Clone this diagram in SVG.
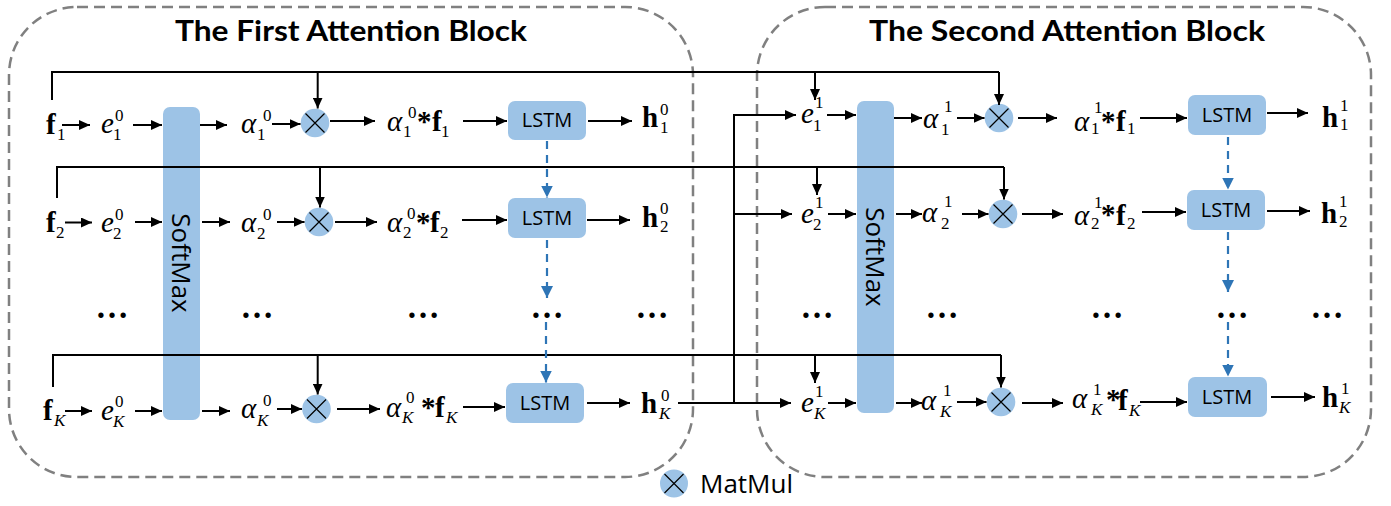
<svg xmlns="http://www.w3.org/2000/svg" width="1391" height="506" viewBox="0 0 1391 506">
<style>
.blk{fill:none;stroke:#808080;stroke-width:2.5;stroke-dasharray:11 6}
.ttl{font-family:Lato,"Open Sans",sans-serif;font-weight:bold;font-size:29px;text-anchor:middle;fill:#000}
.bar{fill:#9dc3e6}
.bt{font-family:"Open Sans",sans-serif;font-size:26px;text-anchor:middle;fill:#000}
.box{fill:#9dc3e6}
.lt{font-family:"Open Sans",sans-serif;font-size:20px;text-anchor:middle;fill:#000}
.mc{fill:#9dc3e6}
.mx{stroke:#000;stroke-width:1.2;fill:none}
.c{fill:none;stroke:#000;stroke-width:2}
.a{marker-end:url(#ah)}
.bd{fill:none;stroke:#2e75b6;stroke-width:2.2;stroke-dasharray:8 6;marker-end:url(#bh)}
.m{font-family:"Liberation Serif","Times New Roman",serif;font-size:29px;fill:#000}
.s{font-size:17px}
.i{font-style:italic}
.b{font-weight:bold}
.dots{font-family:"Liberation Serif","Times New Roman",serif;font-size:33px;font-weight:bold;text-anchor:middle;fill:#000}
.lg{font-family:"Open Sans",sans-serif;font-size:26px;fill:#000}
</style>
<defs>
<marker id="ah" markerUnits="userSpaceOnUse" markerWidth="11" markerHeight="10" refX="11" refY="5" orient="auto"><path d="M0,0 L11,5 L0,10 z" fill="#000"/></marker>
<marker id="bh" markerUnits="userSpaceOnUse" markerWidth="12" markerHeight="12" refX="12" refY="6" orient="auto"><path d="M0,0 L12,6 L0,12 z" fill="#2e75b6"/></marker>
<g id="mmx"><path class="mx" d="M-9.5,-9.5 L9.5,9.5 M-9.5,9.5 L9.5,-9.5"/></g>
</defs>
<rect width="1391" height="506" fill="#fff"/>

<g id="block1"><rect class="blk" x="9" y="7" width="684" height="470" rx="68" ry="68"/><text class="ttl" x="351" y="41" textLength="352" lengthAdjust="spacingAndGlyphs">The First Attention Block</text></g>
<g id="block2"><rect class="blk" x="757" y="7" width="614" height="470" rx="68" ry="68"/><text class="ttl" x="1067" y="41" textLength="396" lengthAdjust="spacingAndGlyphs">The Second Attention Block</text></g>

<g id="softmax1"><rect class="bar" x="163" y="107" width="37" height="313" rx="7"/><text class="bt" transform="translate(181,263) rotate(90)" y="9">SoftMax</text></g>
<g id="softmax2"><rect class="bar" x="857" y="101" width="37" height="312" rx="7"/><text class="bt" transform="translate(875,257) rotate(90)" y="9">SoftMax</text></g>

<g id="lstm1-1"><rect class="box" x="508" y="101" width="78" height="39" rx="7"/><text class="lt" x="547" y="127">LSTM</text></g>
<g id="lstm1-2"><rect class="box" x="508" y="198" width="78" height="40" rx="7"/><text class="lt" x="547" y="225">LSTM</text></g>
<g id="lstm1-K"><rect class="box" x="506" y="383" width="78" height="40" rx="7"/><text class="lt" x="545" y="410">LSTM</text></g>
<g id="lstm2-1"><rect class="box" x="1188" y="95" width="78" height="40" rx="7"/><text class="lt" x="1227" y="122">LSTM</text></g>
<g id="lstm2-2"><rect class="box" x="1187" y="190" width="78" height="40" rx="7"/><text class="lt" x="1226" y="217">LSTM</text></g>
<g id="lstm2-K"><rect class="box" x="1188" y="377" width="79" height="40" rx="7"/><text class="lt" x="1227" y="404">LSTM</text></g>

<g id="mm1-1"><circle class="mc" cx="315" cy="123" r="14.3"/><use href="#mmx" x="315" y="123"/></g>
<g id="mm1-2"><circle class="mc" cx="319" cy="222" r="14.3"/><use href="#mmx" x="319" y="222"/></g>
<g id="mm1-K"><circle class="mc" cx="316.5" cy="409" r="14.3"/><use href="#mmx" x="316.5" y="409"/></g>
<g id="mm2-1"><circle class="mc" cx="999" cy="118" r="14.3"/><use href="#mmx" x="999" y="118"/></g>
<g id="mm2-2"><circle class="mc" cx="1003" cy="214" r="14.3"/><use href="#mmx" x="1003" y="214"/></g>
<g id="mm2-K"><circle class="mc" cx="1001" cy="402" r="14.3"/><use href="#mmx" x="1001" y="402"/></g>

<g id="connectors">
<path class="c" d="M52,100 V72 H999"/>
<path class="c a" d="M999,72 V105"/>
<path class="c a" d="M317.7,72 V108.5"/>
<path class="c a" d="M815,72 V100"/>
<path class="c" d="M57,198 V167 H1004"/>
<path class="c a" d="M1004,167 V199.5"/>
<path class="c a" d="M320,167 V207.5"/>
<path class="c a" d="M817,167 V195"/>
<path class="c" d="M53,387 V355 H1001"/>
<path class="c a" d="M1001,355 V387.5"/>
<path class="c a" d="M317.7,355 V394.5"/>
<path class="c a" d="M815,355 V383"/>
<path class="c a" d="M678,403 H791"/>
<path class="c a" d="M734,403 V115 H796"/>
<path class="c a" d="M734,214 H792"/>

<path class="c a" d="M62,125 H90"/>
<path class="c a" d="M133,125 H162"/>
<path class="c a" d="M200,125 H227"/>
<path class="c a" d="M272,124 H300.5"/>
<path class="c a" d="M330,121 H375"/>
<path class="c a" d="M463,121 H507"/>
<path class="c a" d="M588,121 H632"/>

<path class="c a" d="M65,222.5 H92"/>
<path class="c a" d="M135,222 H162"/>
<path class="c a" d="M202,222 H230"/>
<path class="c a" d="M277,222 H304.5"/>
<path class="c a" d="M335,222 H377"/>
<path class="c a" d="M462,220 H507"/>
<path class="c a" d="M587,220 H630"/>

<path class="c a" d="M65,411 H92"/>
<path class="c a" d="M135,411 H162"/>
<path class="c a" d="M202,411 H230"/>
<path class="c a" d="M277,409 H302"/>
<path class="c a" d="M337,409 H380"/>
<path class="c a" d="M463,407 H505"/>
<path class="c a" d="M587,403 H630"/>

<path class="c a" d="M827,115 H856"/>
<path class="c a" d="M894,118 H922"/>
<path class="c a" d="M957,118 H984.5"/>
<path class="c a" d="M1018,118 H1057"/>
<path class="c a" d="M1140,118 H1187"/>
<path class="c a" d="M1267,113 H1308"/>

<path class="c a" d="M828,214 H856"/>
<path class="c a" d="M896,214 H922"/>
<path class="c a" d="M962,214 H988.5"/>
<path class="c a" d="M1022,214 H1063"/>
<path class="c a" d="M1142,212 H1186"/>
<path class="c a" d="M1267,211 H1310"/>

<path class="c a" d="M828,403 H856"/>
<path class="c a" d="M896,403 H922"/>
<path class="c a" d="M957,402 H986.5"/>
<path class="c a" d="M1022,403 H1063"/>
<path class="c a" d="M1140,402 H1187"/>
<path class="c a" d="M1271,397 H1315"/>

<path class="bd" d="M547,141 V197.5"/>
<path class="bd" d="M547,240 V298"/>
<path class="bd" d="M546,322 V382.5"/>
<path class="bd" d="M1228,137 V189.5"/>
<path class="bd" d="M1228,232 V292"/>
<path class="bd" d="M1228,322 V376.5"/>
</g>

<!-- left block labels -->
<g id="f1"><text class="m b" x="46" y="134">f</text><text class="m s" x="57" y="140">1</text></g>
<g id="e1-0"><text class="m i" x="101" y="133">e</text><text class="m s" x="115" y="121">0</text><text class="m s" x="113" y="140">1</text></g>
<g id="a1-0"><text class="m i" x="241" y="133">α</text><text class="m s" x="263" y="121">0</text><text class="m s" x="257" y="140">1</text></g>
<g id="af1-0"><text class="m i" x="387" y="131">α</text><text class="m s" x="408" y="118">0</text><text class="m s" x="403" y="137">1</text><text class="m b" x="417" y="131">*</text><text class="m b" x="432" y="131">f</text><text class="m s" x="441" y="137">1</text></g>
<g id="h1-0"><text class="m b" x="642" y="127">h</text><text class="m s" x="660" y="115">0</text><text class="m s" x="660" y="133">1</text></g>

<g id="f2"><text class="m b" x="46" y="232">f</text><text class="m s" x="56" y="238">2</text></g>
<g id="e2-0"><text class="m i" x="101" y="232">e</text><text class="m s" x="115" y="220">0</text><text class="m s" x="113" y="239">2</text></g>
<g id="a2-0"><text class="m i" x="241" y="232">α</text><text class="m s" x="263" y="220">0</text><text class="m s" x="257" y="239">2</text></g>
<g id="af2-0"><text class="m i" x="387" y="232">α</text><text class="m s" x="407" y="219">0</text><text class="m s" x="403" y="238">2</text><text class="m b" x="416" y="232">*</text><text class="m b" x="430" y="232">f</text><text class="m s" x="440" y="238">2</text></g>
<g id="h2-0"><text class="m b" x="642" y="227">h</text><text class="m s" x="660" y="214">0</text><text class="m s" x="660" y="232">2</text></g>

<g id="fK"><text class="m b" x="43" y="420">f</text><text class="m s i" x="54" y="426">K</text></g>
<g id="eK-0"><text class="m i" x="101" y="420">e</text><text class="m s" x="115" y="407">0</text><text class="m s i" x="113" y="427">K</text></g>
<g id="aK-0"><text class="m i" x="241" y="418">α</text><text class="m s" x="263" y="406">0</text><text class="m s i" x="257" y="426">K</text></g>
<g id="afK-0"><text class="m i" x="386" y="417">α</text><text class="m s" x="406" y="403">0</text><text class="m s i" x="402" y="423">K</text><text class="m b" x="421" y="417">*</text><text class="m b" x="435" y="417">f</text><text class="m s i" x="446" y="423">K</text></g>
<g id="hK-0"><text class="m b" x="641" y="413">h</text><text class="m s" x="661" y="401">0</text><text class="m s i" x="659" y="419">K</text></g>

<!-- right block labels -->
<g id="e1-1"><text class="m i" x="801" y="123">e</text><text class="m s" x="815" y="108">1</text><text class="m s" x="813" y="131">1</text></g>
<g id="a1-1"><text class="m i" x="923" y="128">α</text><text class="m s" x="944" y="112">1</text><text class="m s" x="941" y="135">1</text></g>
<g id="af1-1"><text class="m i" x="1074" y="131">α</text><text class="m s" x="1094" y="113">1</text><text class="m s" x="1091" y="134">1</text><text class="m b" x="1101" y="131">*</text><text class="m b" x="1116" y="131">f</text><text class="m s" x="1127" y="134">1</text></g>
<g id="h1-1"><text class="m b" x="1322" y="127">h</text><text class="m s" x="1340" y="111">1</text><text class="m s" x="1340" y="130">1</text></g>

<g id="e2-1"><text class="m i" x="801" y="223">e</text><text class="m s" x="815" y="208">1</text><text class="m s" x="813" y="230">2</text></g>
<g id="a2-1"><text class="m i" x="922" y="222">α</text><text class="m s" x="944" y="207">1</text><text class="m s" x="941" y="229">2</text></g>
<g id="af2-1"><text class="m i" x="1074" y="225">α</text><text class="m s" x="1094" y="208">1</text><text class="m s" x="1091" y="229">2</text><text class="m b" x="1101" y="224">*</text><text class="m b" x="1116" y="225">f</text><text class="m s" x="1127" y="229">2</text></g>
<g id="h2-1"><text class="m b" x="1321" y="223">h</text><text class="m s" x="1339" y="207">1</text><text class="m s" x="1339" y="227">2</text></g>

<g id="eK-1"><text class="m i" x="801" y="412">e</text><text class="m s" x="815" y="397">1</text><text class="m s i" x="814" y="419">K</text></g>
<g id="aK-1"><text class="m i" x="921" y="410">α</text><text class="m s" x="943" y="396">1</text><text class="m s i" x="940" y="417">K</text></g>
<g id="afK-1"><text class="m i" x="1072" y="408">α</text><text class="m s" x="1093" y="395">1</text><text class="m s i" x="1091" y="415">K</text><text class="m b" x="1106" y="409">*</text><text class="m b" x="1118" y="410">f</text><text class="m s i" x="1129" y="416">K</text></g>
<g id="hK-1"><text class="m b" x="1322" y="407">h</text><text class="m s" x="1341" y="394">1</text><text class="m s i" x="1339" y="413">K</text></g>

<g id="ellipses">
<text class="dots" x="112" y="318">…</text>
<text class="dots" x="257" y="318">…</text>
<text class="dots" x="423" y="318">…</text>
<text class="dots" x="547" y="318">…</text>
<text class="dots" x="652" y="318">…</text>
<text class="dots" x="817" y="318">…</text>
<text class="dots" x="942" y="318">…</text>
<text class="dots" x="1107" y="318">…</text>
<text class="dots" x="1232" y="318">…</text>
<text class="dots" x="1327" y="318">…</text>
</g>

<g id="legend"><circle class="mc" cx="674" cy="483.5" r="14"/><use href="#mmx" x="674" y="483.5"/><text class="lg" x="700" y="493">MatMul</text></g>
</svg>
